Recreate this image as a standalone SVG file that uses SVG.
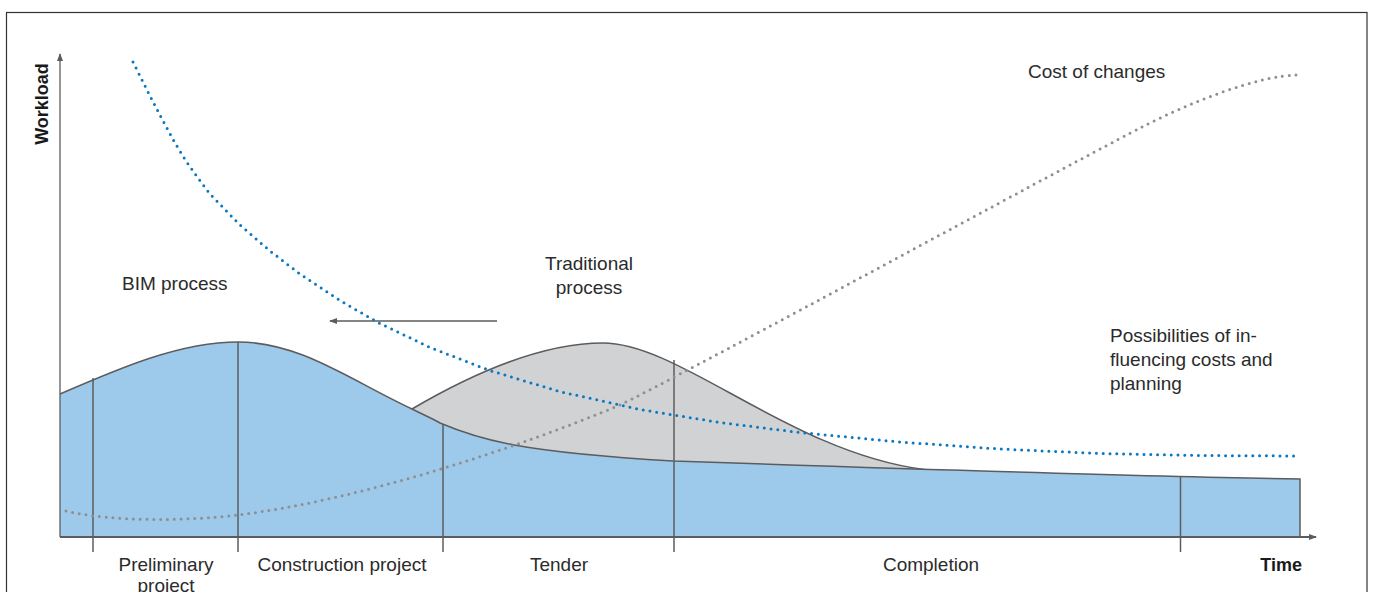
<svg xmlns="http://www.w3.org/2000/svg" width="1375" height="592" viewBox="0 0 1375 592">
<defs>
<style>
.t{font-family:"Liberation Sans",Arial,sans-serif;font-size:19px;fill:#2b2b2b}
.b{font-family:"Liberation Sans",Arial,sans-serif;font-size:18px;font-weight:bold;fill:#1a1a1a}
.ln{stroke:#5c5c5e;stroke-width:1.5;fill:none}
.dotb{stroke:#0a77c1;stroke-width:3;fill:none;stroke-linecap:round;stroke-dasharray:0 6.8}
.dotg{stroke:#8f8f92;stroke-width:3;fill:none;stroke-linecap:round;stroke-dasharray:0 6.8}
</style>
<marker id="ah" markerWidth="8" markerHeight="6" refX="7" refY="3" orient="auto" markerUnits="userSpaceOnUse">
<path d="M0,0 L8,3 L0,6 Z" fill="#5c5c5e"/>
</marker>
</defs>
<rect x="0" y="0" width="1375" height="592" fill="#fff"/>
<rect x="6.5" y="12.5" width="1360.5" height="620" fill="none" stroke="#333" stroke-width="1.2"/>

<g id="traditional-area">
<path d="M412,409 C470,375 540,343 603,343 C680,343 790,452 924,469.5 L924,500 L412,500 Z" fill="#d1d2d4"/>
<path d="M412,409 C470,375 540,343 603,343 C680,343 790,452 924,469.5" class="ln"/>
</g>

<g id="bim-area">
<path d="M60,394 C120,368 180,342 238,342 C300,342 350,380 412,409 C426,416 433,419 440,423 C480,440 520,452 673,461 C850,467 1150,477 1300,479 L1300,537 L60,537 Z" fill="#9dc9ea"/>
<path d="M60,394 C120,368 180,342 238,342 C300,342 350,380 412,409 C426,416 433,419 440,423 C480,440 520,452 673,461 C850,467 1150,477 1300,479 L1300,537" class="ln"/>
</g>

<g id="phase-dividers" class="ln">
<line x1="93" y1="378" x2="93" y2="552"/>
<line x1="238" y1="342" x2="238" y2="552"/>
<line x1="443" y1="424" x2="443" y2="552"/>
<line x1="674" y1="360" x2="674" y2="552"/>
<line x1="1180.5" y1="477" x2="1180.5" y2="552"/>
</g>

<g id="axes">
<line x1="60" y1="537" x2="60" y2="54" stroke="#5c5c5e" stroke-width="1.3" marker-end="url(#ah)"/>
<line x1="60" y1="537" x2="1316" y2="537" stroke="#5c5c5e" stroke-width="2" marker-end="url(#ah)"/>
</g>

<g id="connectors">
<line x1="497" y1="321" x2="330" y2="321" stroke="#5c5c5e" stroke-width="1.5" marker-end="url(#ah)"/>
</g>

<g id="curve-influence">
<path class="dotb" d="M133,62 L149,94 L162,119 L175,143 L186,161 L198,178 L210,194 L240,225 L270,251 L300,274 L340,300.6 L380,323.5 L430,347.4 L490,370.6 L560,391.6 L640,409.5 L720,422.5 L800,432.5 L900,442 L1000,449 L1100,453.5 L1200,455.5 L1300,456"/>
</g>

<g id="curve-cost">
<path class="dotg" d="M66,511 C110,522 190,521 238,515 C360,500 520,447 620,405 C720,355 1040,180 1140,128 C1190,102 1260,75 1298,75"/>
</g>

<g id="labels">
<text class="b" transform="translate(48,104) rotate(-90)" text-anchor="middle">Workload</text>
<text class="t" x="122" y="290">BIM process</text>
<text class="t" x="589" y="270" text-anchor="middle">Traditional</text>
<text class="t" x="589" y="294" text-anchor="middle">process</text>
<text class="t" x="1028" y="78">Cost of changes</text>
<text class="t" x="1110" y="342">Possibilities of in-</text>
<text class="t" x="1110" y="366">fluencing costs and</text>
<text class="t" x="1110" y="390">planning</text>
<text class="t" x="166" y="571" text-anchor="middle">Preliminary</text>
<text class="t" x="166" y="592" text-anchor="middle">project</text>
<text class="t" x="342" y="571" text-anchor="middle">Construction project</text>
<text class="t" x="559" y="571" text-anchor="middle">Tender</text>
<text class="t" x="931" y="571" text-anchor="middle">Completion</text>
<text class="b" x="1302" y="571" text-anchor="end">Time</text>
</g>
</svg>
